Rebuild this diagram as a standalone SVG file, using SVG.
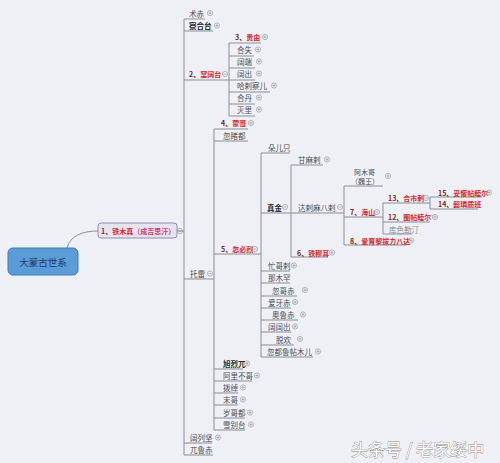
<svg xmlns="http://www.w3.org/2000/svg" xmlns:xlink="http://www.w3.org/1999/xlink" width="500" height="463" viewBox="0 0 500 463">
<style>
.bg{fill:#eef0f5}
.ln{stroke:#8a8e96;stroke-width:1;fill:none}
.t{font-family:"Noto Sans CJK SC","Noto Sans",sans-serif;font-size:7.5px;fill:#4d4f55;dominant-baseline:central}
.r{font-size:7px;font-weight:bold;fill:#d8262c}
.p{fill:#7a1f1f}
.b{font-weight:bold;fill:#2b2b2b}
.g{fill:#8a8a8a}
.sm{font-size:7px}
.mk{fill:none;stroke:#9a9ca2;stroke-width:0.7}
.root{fill:#5b9bd8;stroke:#3f78b5;stroke-width:1}
.rt{font-family:"Noto Sans CJK SC","Noto Sans",sans-serif;font-size:9.5px;fill:#1f3a66;dominant-baseline:central;text-anchor:middle}
.n1{fill:#e7e3f2;stroke:#8e8fb0;stroke-width:1}
.wm{font-family:"Noto Sans CJK SC","Noto Sans",sans-serif;font-size:17px;fill:#ffffff;stroke:#8a8a8a;stroke-width:0.8;paint-order:stroke fill}
</style>
<defs>
<g id="plus"><circle class="mk" cx="0" cy="0" r="2.6"/><path class="mk" d="M-1.5,0H1.5M0,-1.5V1.5"/></g>
<g id="minus"><circle class="mk" cx="0" cy="0" r="2.6"/><path class="mk" d="M-1.5,0H1.5"/></g>
</defs>
<rect class="bg" x="0" y="0" width="500" height="463"/>

<g id="connectors">
<path class="ln" d="M67,248 C70,236 82,231 98,231"/>
<line class="ln" x1="177" y1="231" x2="184" y2="231"/>
<line class="ln" x1="184" y1="19" x2="184" y2="455"/>
<line class="ln" x1="229" y1="43" x2="229" y2="116"/>
<line class="ln" x1="214" y1="129" x2="214" y2="430"/>
<line class="ln" x1="261" y1="153" x2="261" y2="357"/>
<line class="ln" x1="291" y1="165" x2="291" y2="257"/>
<line class="ln" x1="344" y1="186" x2="344" y2="245"/>
<line class="ln" x1="383" y1="203" x2="383" y2="234"/>
<line class="ln" x1="430" y1="197" x2="430" y2="209"/>
</g>

<g id="n-root"><rect class="root" x="8" y="248" width="70" height="27" rx="5"/><text class="rt" x="43" y="261.5">大蒙古世系</text></g>
<g id="n-temujin"><rect class="n1" x="98" y="223" width="79" height="15" rx="3"/><text class="t r" x="101" y="230.5"><tspan class="p">1、</tspan>铁木真<tspan fill="#c8406a">（成吉思汗）</tspan></text><use href="#minus" x="180" y="231"/></g>

<g id="n-jochi"><line class="ln" x1="184" y1="19" x2="205" y2="19"/><text class="t" x="189" y="13">术赤</text><use href="#plus" x="210" y="13"/></g>
<g id="n-chagatai"><line class="ln" x1="184" y1="31" x2="213" y2="31"/><text class="t b" x="189" y="25.5">察合台</text><use href="#plus" x="217" y="25.5"/></g>
<g id="n-ogedei"><line class="ln" x1="184" y1="80" x2="229" y2="80"/><text class="t r" x="189" y="74"><tspan class="p">2、</tspan>窝阔台</text><use href="#minus" x="225" y="74"/></g>
<g id="n-tolui"><line class="ln" x1="184" y1="279" x2="214" y2="279"/><text class="t" x="190" y="273.5">托雷</text><use href="#minus" x="210" y="273.5"/></g>
<g id="n-kulgan"><line class="ln" x1="184" y1="443" x2="212" y2="443"/><text class="t" x="190" y="437.5">阔列坚</text><use href="#plus" x="218" y="437.5"/></g>
<g id="n-uruchi"><line class="ln" x1="184" y1="455" x2="213" y2="455"/><text class="t" x="190" y="449.5">兀鲁赤</text></g>

<g id="n-guyuk"><line class="ln" x1="229" y1="43" x2="261" y2="43"/><text class="t r" x="235" y="37"><tspan class="p">3、</tspan>贵由</text><use href="#plus" x="265" y="37"/></g>
<g id="n-qashi"><line class="ln" x1="229" y1="56" x2="254" y2="56"/><text class="t" x="237" y="49.5">合失</text><use href="#plus" x="258" y="49.5"/></g>
<g id="n-kodan"><line class="ln" x1="229" y1="68" x2="255" y2="68"/><text class="t" x="237" y="61.5">阔端</text><use href="#plus" x="259" y="61.5"/></g>
<g id="n-kochu"><line class="ln" x1="229" y1="80" x2="255" y2="80"/><text class="t" x="237" y="73.5">阔出</text><use href="#plus" x="259" y="73.5"/></g>
<g id="n-qarachar"><line class="ln" x1="229" y1="92" x2="270" y2="92"/><text class="t" x="237" y="85.5">哈剌察儿</text><use href="#plus" x="274" y="85.5"/></g>
<g id="n-qadan"><line class="ln" x1="229" y1="104" x2="255" y2="104"/><text class="t" x="237" y="97.5">合丹</text><use href="#plus" x="259" y="97.5"/></g>
<g id="n-melik"><line class="ln" x1="229" y1="116" x2="255" y2="116"/><text class="t" x="237" y="109.5">灭里</text><use href="#plus" x="259" y="109.5"/></g>

<g id="n-mongke"><line class="ln" x1="214" y1="129" x2="248" y2="129"/><text class="t r" x="221" y="123"><tspan class="p">4、</tspan>蒙哥</text><use href="#plus" x="251" y="123"/></g>
<g id="n-hutudu"><line class="ln" x1="214" y1="141" x2="248" y2="141"/><text class="t" x="223" y="135">忽睹都</text></g>
<g id="n-kublai"><line class="ln" x1="214" y1="254" x2="261" y2="254"/><text class="t r" x="221" y="249"><tspan class="p">5、</tspan>忽必烈</text><use href="#minus" x="255" y="249"/></g>
<g id="n-hulagu"><line class="ln" x1="214" y1="369" x2="243" y2="369"/><text class="t b" x="223" y="363.5">旭烈兀</text><use href="#plus" x="247" y="363.5"/></g>
<g id="n-ariq"><line class="ln" x1="214" y1="381" x2="252" y2="381"/><text class="t" x="223" y="375.5">阿里不哥</text><use href="#plus" x="257" y="375.5"/></g>
<g id="n-bochuq"><line class="ln" x1="214" y1="393" x2="238" y2="393"/><text class="t" x="223" y="387.5">拨绰</text><use href="#plus" x="243" y="387.5"/></g>
<g id="n-moge"><line class="ln" x1="214" y1="405" x2="238" y2="405"/><text class="t" x="223" y="399.5">末哥</text><use href="#plus" x="243" y="399.5"/></g>
<g id="n-suiqedu"><line class="ln" x1="214" y1="418" x2="245" y2="418"/><text class="t" x="223" y="412.5">岁哥都</text><use href="#plus" x="250" y="412.5"/></g>
<g id="n-subetei"><line class="ln" x1="214" y1="430" x2="245" y2="430"/><text class="t" x="223" y="424.5">雪别台</text><use href="#plus" x="251" y="424.5"/></g>

<g id="n-dorji"><line class="ln" x1="261" y1="153" x2="290" y2="153"/><text class="t" x="268" y="147">朵儿只</text></g>
<g id="n-zhenjin"><line class="ln" x1="261" y1="213" x2="291" y2="213"/><text class="t b" x="267" y="207">真金</text><use href="#minus" x="285" y="207"/></g>
<g id="n-manggala"><line class="ln" x1="261" y1="271" x2="290" y2="271"/><text class="t" x="268" y="265.5">忙哥剌</text><use href="#plus" x="294" y="265.5"/></g>
<g id="n-nomukhan"><line class="ln" x1="261" y1="283" x2="290" y2="283"/><text class="t" x="268" y="277.5">那木罕</text></g>
<g id="n-hugechi"><line class="ln" x1="261" y1="296" x2="297" y2="296"/><text class="t" x="272" y="290">忽哥赤</text><use href="#plus" x="305" y="290"/></g>
<g id="n-ayachi"><line class="ln" x1="261" y1="308" x2="291" y2="308"/><text class="t" x="268" y="302">爱牙赤</text><use href="#plus" x="295" y="302"/></g>
<g id="n-aoluchi"><line class="ln" x1="261" y1="320" x2="298" y2="320"/><text class="t" x="272" y="314.5">奥鲁赤</text><use href="#plus" x="303" y="314.5"/></g>
<g id="n-kokochu"><line class="ln" x1="261" y1="332" x2="291" y2="332"/><text class="t" x="268" y="326.5">阔阔出</text><use href="#plus" x="295" y="326.5"/></g>
<g id="n-toghon"><line class="ln" x1="261" y1="345" x2="294" y2="345"/><text class="t" x="276" y="339">脱欢</text><use href="#plus" x="300" y="339"/></g>
<g id="n-qutlugh"><line class="ln" x1="261" y1="357" x2="313" y2="357"/><text class="t" x="267" y="351.5">忽都鲁帖木儿</text><use href="#plus" x="318" y="351.5"/></g>

<g id="n-kammala"><line class="ln" x1="291" y1="165" x2="323" y2="165"/><text class="t" x="298" y="159.5">甘麻剌</text><use href="#plus" x="327" y="159.5"/></g>
<g id="n-darmabala"><line class="ln" x1="291" y1="213" x2="344" y2="213"/><text class="t" x="298" y="207">达剌麻八剌</text><use href="#minus" x="340" y="207"/></g>
<g id="n-temur"><line class="ln" x1="291" y1="257" x2="328" y2="257"/><text class="t r" x="297" y="252.5"><tspan class="p">6、</tspan>铁穆耳</text><use href="#plus" x="332" y="252.5"/></g>

<g id="n-amuge"><line class="ln" x1="344" y1="186" x2="383" y2="186"/><text class="t sm" x="354" y="171.5">阿木哥</text><text class="t sm" x="351" y="180.5">（魏王）</text><use href="#plus" x="388" y="176"/></g>
<g id="n-khaishan"><line class="ln" x1="344" y1="217" x2="383" y2="217"/><text class="t r" x="350" y="212"><tspan class="p">7、</tspan>海山</text><use href="#minus" x="377" y="212"/></g>
<g id="n-ayurbarwada"><line class="ln" x1="344" y1="245" x2="406" y2="245"/><text class="t r" x="350" y="240.5"><tspan class="p">8、</tspan>爱育黎拔力八达</text><use href="#plus" x="411" y="240.5"/></g>

<g id="n-kusala"><line class="ln" x1="383" y1="203" x2="430" y2="203"/><text class="t r" x="388" y="198"><tspan class="p">13、</tspan>合市剌</text><use href="#minus" x="426" y="198"/></g>
<g id="n-tugh"><line class="ln" x1="383" y1="222" x2="430" y2="222"/><text class="t r" x="388" y="217"><tspan class="p">12、</tspan>图帖睦尔</text><use href="#plus" x="435" y="217"/></g>
<g id="n-kuse"><line class="ln" x1="383" y1="234" x2="412" y2="234"/><text class="t g" x="389" y="229">库色勒汀</text></g>

<g id="n-toghon-temur"><line class="ln" x1="430" y1="197" x2="482" y2="197"/><text class="t r" x="438" y="192.5"><tspan class="p">15、</tspan>妥懽帖睦尔</text><use href="#plus" x="489" y="192.5"/></g>
<g id="n-rinchinbal"><line class="ln" x1="430" y1="209" x2="478" y2="209"/><text class="t r" x="438" y="204"><tspan class="p">14、</tspan>懿璘质班</text></g>

<text class="wm" x="351" y="456">头条号 / 老家绥中</text>
</svg>
